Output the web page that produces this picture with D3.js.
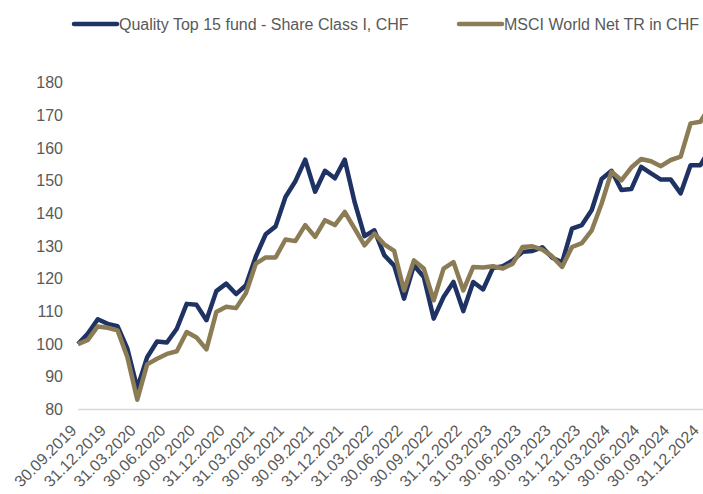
<!DOCTYPE html>
<html>
<head>
<meta charset="utf-8">
<script src="https://cdn.jsdelivr.net/npm/d3@7"></script>
<style>
  html, body { margin: 0; padding: 0; background: #fff; }
  svg { display: block; font-family: "Liberation Sans", Arial, sans-serif; }
</style>
</head>
<body>
<svg id="chart" width="703" height="494"></svg>
<script>
const months = ["30.09.2019","31.10.2019","30.11.2019","31.12.2019","31.01.2020","29.02.2020","31.03.2020","30.04.2020","31.05.2020","30.06.2020","31.07.2020","31.08.2020","30.09.2020","31.10.2020","30.11.2020","31.12.2020","31.01.2021","28.02.2021","31.03.2021","30.04.2021","31.05.2021","30.06.2021","31.07.2021","31.08.2021","30.09.2021","31.10.2021","30.11.2021","31.12.2021","31.01.2022","28.02.2022","31.03.2022","30.04.2022","31.05.2022","30.06.2022","31.07.2022","31.08.2022","30.09.2022","31.10.2022","30.11.2022","31.12.2022","31.01.2023","28.02.2023","31.03.2023","30.04.2023","31.05.2023","30.06.2023","31.07.2023","31.08.2023","30.09.2023","31.10.2023","30.11.2023","31.12.2023","31.01.2024","29.02.2024","31.03.2024","30.04.2024","31.05.2024","30.06.2024","31.07.2024","31.08.2024","30.09.2024","31.10.2024","30.11.2024","31.12.2024","31.01.2025"];

const fundValues = [100,103.2,107.6,106.2,105.5,98.6,86.5,96,100.8,100.5,104.7,112.3,112,107.3,116.2,118.5,115.3,118,126.8,133.6,136,145,149.8,156.4,146.6,153,150.7,156.4,143.4,133,134.8,127.2,124,113.9,124.1,120.5,107.8,114.4,119,110.1,119,116.7,123.3,123.8,125.6,128.2,128.5,129.6,126.4,125,135.3,136.4,141,150.5,153,147.1,147.4,154.2,152.2,150.3,150.3,146.1,154.7,154.7,160];

const msciValues = [100,101.3,105.4,105,104.2,96,83,93.8,95.5,97,97.8,103.7,102,98.4,109.8,111.4,111,115.6,124.6,126.5,126.5,132,131.5,136.4,132.8,137.9,136.4,140.4,135.3,130.2,133.8,130.5,128.5,116.4,125.6,123.1,113.4,123.1,125.1,116.4,123.6,123.4,123.8,123.1,124.6,129.7,129.9,128.9,126.8,123.6,129.7,130.9,134.8,143,152.7,150.1,154,156.6,155.9,154.4,156.3,157.3,167.5,168,173];

const tickLabels = ["30.09.2019","31.12.2019","31.03.2020","30.06.2020","30.09.2020","31.12.2020","31.03.2021","30.06.2021","30.09.2021","31.12.2021","31.03.2022","30.06.2022","30.09.2022","31.12.2022","31.03.2023","30.06.2023","30.09.2023","31.12.2023","31.03.2024","30.06.2024","30.09.2024","31.12.2024"];

const yTicks = [80,90,100,110,120,130,140,150,160,170,180];

const seriesNames = ["Quality Top 15 fund - Share Class I, CHF", "MSCI World Net TR in CHF"];
const seriesColors = ["#1f3264", "#8c7c55"];

const svg = d3.select("#chart");
const W = 703, H = 494;

const x = d3.scalePoint().domain(months).range([78, 78 + 64 * 9.88]);
const y = d3.scaleLinear().domain([80, 180]).range([409.5, 82.5]);

const textColor = "#595959";

svg.append("defs").append("clipPath").attr("id", "clip")
  .append("rect").attr("x", 0).attr("y", 0).attr("width", W).attr("height", H);

// Y axis labels
const yAxis = d3.axisLeft(y).tickValues(yTicks).tickSize(0).tickPadding(0).tickFormat(d3.format("d"));
const gy = svg.append("g").attr("transform", "translate(63,0)").call(yAxis);
gy.select(".domain").remove();
gy.selectAll("text").attr("fill", textColor).style("font-size", "16px")
  .style("font-family", "'Liberation Sans', Arial, sans-serif");

// X axis
const xAxis = d3.axisBottom(x).tickValues(tickLabels).tickSize(0).tickFormat(d => d);
const gx = svg.append("g").attr("transform", `translate(0,${y(80)})`).call(xAxis);
gx.select(".domain").remove();
svg.append("line").attr("x1", 78).attr("x2", W).attr("y1", y(80)).attr("y2", y(80))
  .attr("stroke", "#d9d9d9").attr("stroke-width", 1.3);
gx.selectAll("text")
  .attr("fill", textColor).style("font-size", "16px")
  .style("font-family", "'Liberation Sans', Arial, sans-serif")
  .attr("text-anchor", "end")
  .attr("y", 0).attr("dy", 0)
  .attr("transform", "translate(-1,22) rotate(-45)");

// Lines
const series = [fundValues, msciValues];
const line = d3.line().x((d, i) => x(months[i])).y(d => y(d)).curve(d3.curveLinear);
const gl = svg.append("g").attr("clip-path", "url(#clip)");
series.forEach((vals, k) => {
  gl.append("path").datum(vals)
    .attr("d", line)
    .attr("fill", "none")
    .attr("stroke", seriesColors[k])
    .attr("stroke-width", 4.5)
    .attr("stroke-linejoin", "round")
    .attr("stroke-linecap", "butt");
});

// Legend
const legendX = [74, 459];
seriesNames.forEach((name, k) => {
  const g = svg.append("g").attr("transform", `translate(${legendX[k]},24)`);
  g.append("line").attr("x1", 0).attr("x2", 43).attr("y1", 0).attr("y2", 0)
    .attr("stroke", seriesColors[k]).attr("stroke-width", 4.5).attr("stroke-linecap", "round");
  g.append("text").attr("x", 45).attr("y", 5.5).text(name)
    .attr("fill", textColor).style("font-size", "16px");
});
</script>
</body>
</html>
